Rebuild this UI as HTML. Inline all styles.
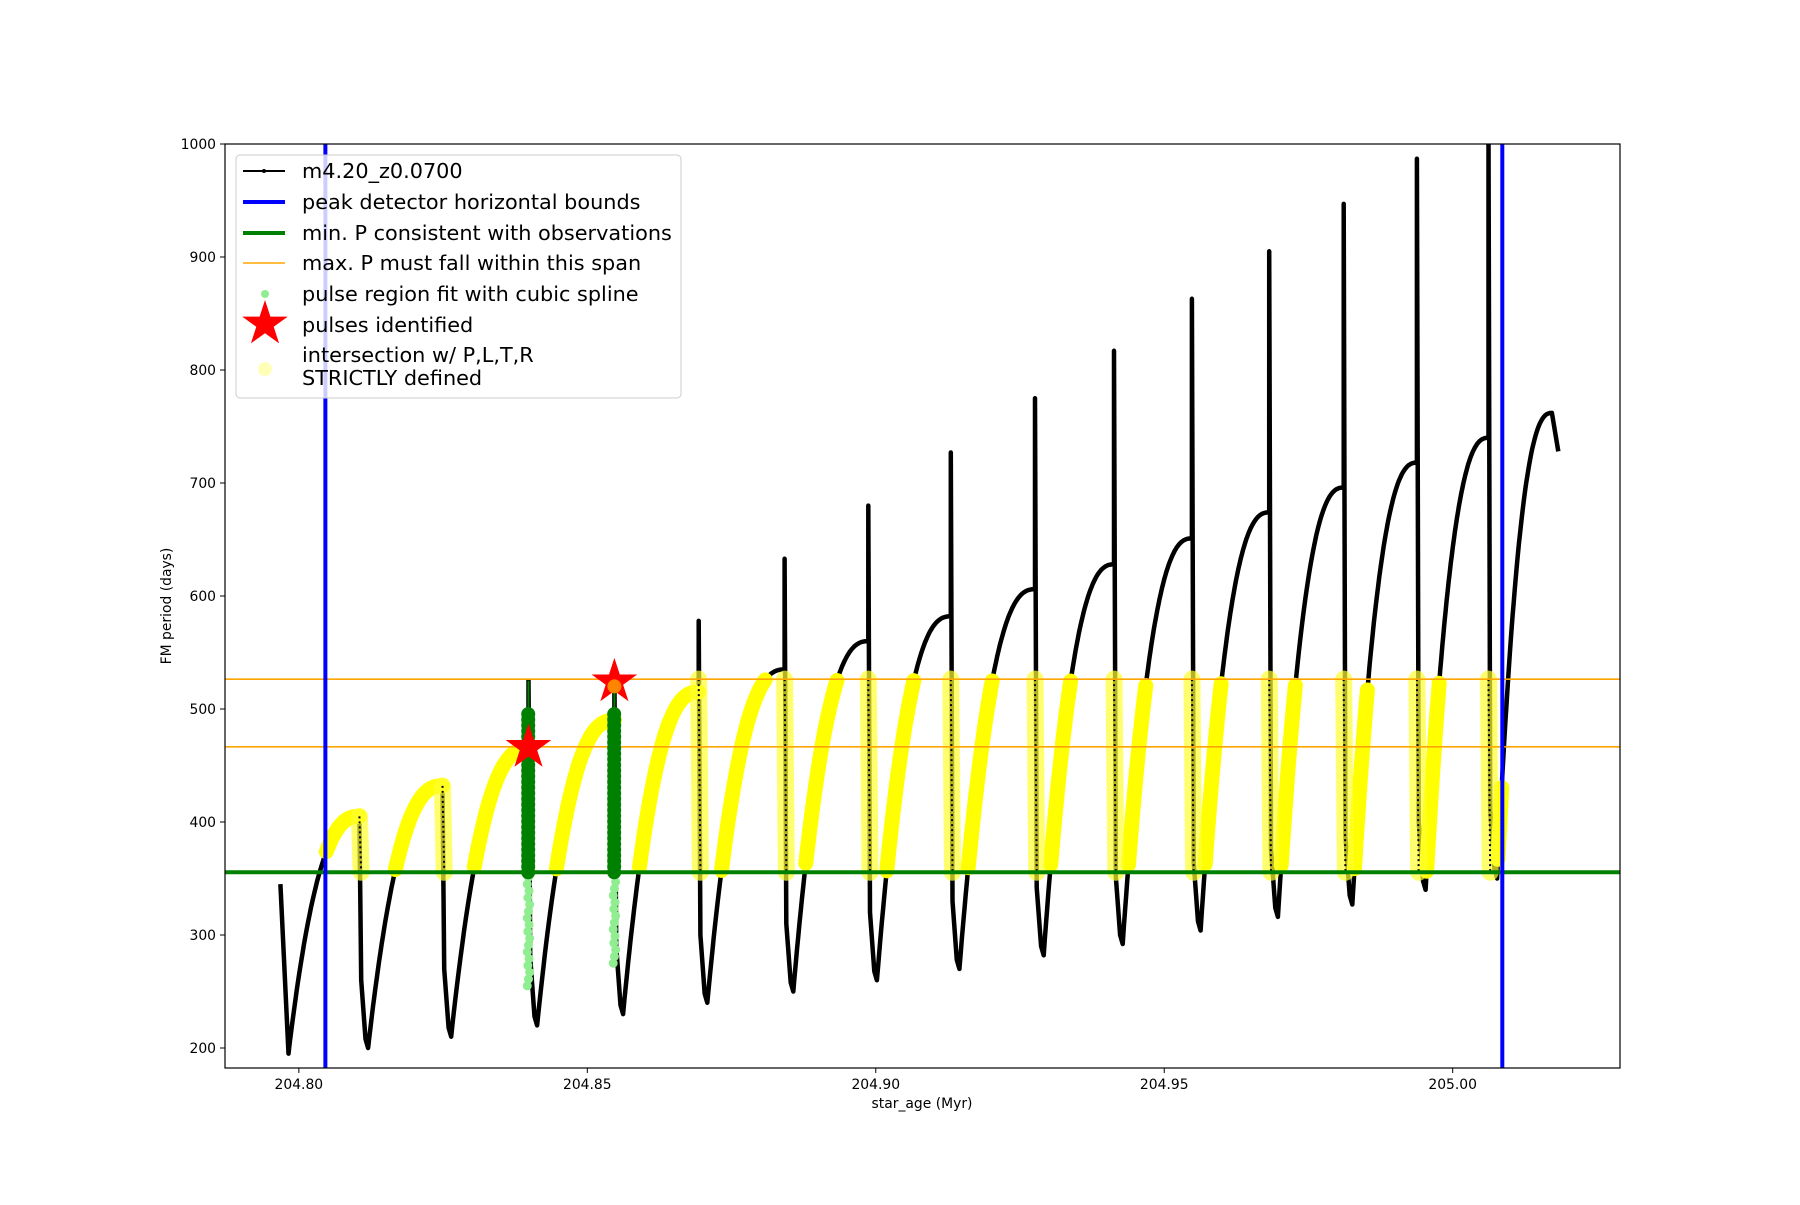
<!DOCTYPE html>
<html><head><meta charset="utf-8"><style>
body{margin:0;background:#fff;}
svg text{font-family:"DejaVu Sans","Liberation Sans",sans-serif;}
</style></head><body>
<svg id="chart" width="1800" height="1200" xmlns="http://www.w3.org/2000/svg">
<defs><clipPath id="clip"><rect x="225" y="144" width="1395" height="924"/></clipPath></defs>
<rect width="1800" height="1200" fill="#fff"/>
<g id="plot" clip-path="url(#clip)"></g>
<rect x="225" y="144" width="1395" height="924" fill="none" stroke="#000" stroke-width="1.2"/>
<g id="axes"></g>
<text x="922" y="1108" font-size="13.9" text-anchor="middle">star_age (Myr)</text>
<text transform="translate(171,606) rotate(-90)" font-size="13.9" text-anchor="middle">FM period (days)</text>
<g>
<rect x="236" y="155" width="445" height="243" rx="4" fill="#fff" fill-opacity="0.8" stroke="#ccc"/>
<g><line x1="243" y1="171" x2="285" y2="171" stroke="#000" stroke-width="2"/><circle cx="264" cy="171" r="2" fill="#000"/><text x="302" y="178" font-size="20.8">m4.20_z0.0700</text></g>
<g><line x1="243" y1="202" x2="285" y2="202" stroke="#0000ff" stroke-width="4"/><text x="302" y="209" font-size="20.8">peak detector horizontal bounds</text></g>
<g><line x1="243" y1="233" x2="285" y2="233" stroke="#008000" stroke-width="4"/><text x="302" y="240" font-size="20.8">min. P consistent with observations</text></g>
<g><line x1="243" y1="263" x2="285" y2="263" stroke="#ffa500" stroke-width="1.5"/><text x="302" y="270" font-size="20.8">max. P must fall within this span</text></g>
<g><circle cx="265" cy="294" r="4" fill="#90ee90"/><text x="302" y="301" font-size="20.8">pulse region fit with cubic spline</text></g>
<g><polygon id="lstar" fill="#ff0000"/><text x="302" y="332" font-size="20.8">pulses identified</text></g>
<g><circle cx="265" cy="369" r="7" fill="#ffffb8"/><text x="302" y="362" font-size="20.8">intersection w/ P,L,T,R</text><text x="302" y="385" font-size="20.8">STRICTLY defined</text></g>
</g>
</svg>
<script>
// ---- data ----
const spikeAge=[204.8105,204.8249,204.8398,204.8547,204.8693,204.8842,204.8987,204.9130,204.9276,204.9413,204.9548,204.9682,204.9811,204.9938,205.0062];
const peakP=[405,432,465,490,515,535,560,582,606,628,651,674,696,718,740];
const spikeP=[405,432,525,530,578,633,680,727,775,817,863,905,947,987,1010];
const minP=[200,210,220,230,240,250,260,270,282,292,304,316,327,340,350];
const startPt=[204.7968,345];
const firstMin=[204.7982,195];
const endPeak=[205.0172,762];
const endPt=[205.0183,728];
const boundAges=[204.8046,205.0086];
const minPeriod=[355.5];
const maxSpan=[466.5,526.4];
const pulseAge=[204.8398,204.8547];
const pulseP=[466,524];
const greenTop=[497,497];
const lightBottom=[255,275];
const xTicks=[204.80,204.85,204.90,204.95,205.00];
const xTickLabels=["204.80","204.85","204.90","204.95","205.00"];
const yTicks=[200,300,400,500,600,700,800,900,1000];
const yTickLabels=["200","300","400","500","600","700","800","900","1000"];
// ---- axes ----
const X0=204.7872,X1=205.0290,Y0=182.3,Y1=1000;
const X=a=>225+(a-X0)/(X1-X0)*1395;
const Y=p=>1068-(p-Y0)/(Y1-Y0)*924;
const NS="http://www.w3.org/2000/svg";
const plot=document.getElementById('plot'),axes=document.getElementById('axes');
function mk(t,at,par){const e=document.createElementNS(NS,t);for(const k in at)e.setAttribute(k,at[k]);par.appendChild(e);return e;}
const LAG=0.0015;
let pts=[[startPt[0],startPt[1]],[firstMin[0],firstMin[1]]];
const rises=[];
let prevT=firstMin[0],prevP=firstMin[1];
function rise(t0,p0,t1,p1){const seg=[];for(let i=1;i<=60;i++){const u=i/60;seg.push([t0+(t1-t0)*u,p0+(p1-p0)*(1-Math.pow(1-u,2.5))]);}return seg;}
const drops=[];
for(let c=0;c<spikeAge.length;c++){
  const r=rise(prevT,prevP,spikeAge[c],peakP[c]);rises.push([[prevT,prevP]].concat(r));pts=pts.concat(r);
  const ts=spikeAge[c];
  const d=[[ts,spikeP[c]],[ts+0.0003,minP[c]+60],[ts+LAG*0.7,minP[c]+8],[ts+LAG,minP[c]]];
  pts.push(...d);drops.push(d);
  prevT=ts+LAG;prevP=minP[c];
}
const lr=rise(prevT,prevP,endPeak[0],endPeak[1]);rises.push([[prevT,prevP]].concat(lr));pts=pts.concat(lr);pts.push(endPt);
const ps=pts.map(p=>X(p[0]).toFixed(1)+','+Y(p[1]).toFixed(1)).join(' ');
const curve=mk('polyline',{points:ps,fill:'none',stroke:'#000','stroke-width':4.5,'stroke-linejoin':'round'},plot);


const lo=minPeriod[0],hi=maxSpan[1];
rises.forEach((seg,i)=>{
  const s=seg.filter(p=>p[1]>=lo&&p[1]<=hi&&p[0]>=boundAges[0]&&p[0]<=boundAges[1]);
  if(s.length<2)return;
  const e=mk('polyline',{points:s.map(p=>X(p[0]).toFixed(1)+','+Y(p[1]).toFixed(1)).join(' '),fill:'none',stroke:'#ffff00','stroke-width':15,'stroke-linecap':'round','stroke-linejoin':'round'},plot);
  
  
});
drops.forEach((d,i)=>{
  if(i===2||i===3)return;
  const t=d[0][0];if(t<boundAges[0]||t>boundAges[1])return;
  const top=Math.min(hi,spikeP[i]);
  const e=mk('line',{x1:X(t),y1:Y(top),x2:X(t+0.0003),y2:Y(lo),stroke:'#ffff30','stroke-width':17,'stroke-opacity':0.7,'stroke-linecap':'round'},plot);
  
  
  const b=mk('line',{x1:X(t),y1:Y(top),x2:X(t+0.0003),y2:Y(lo),stroke:'#000','stroke-width':2,'stroke-dasharray':'2 3'},plot);
  
  
});
const gl=mk('line',{x1:225,x2:1620,y1:Y(minPeriod[0]),y2:Y(minPeriod[0]),stroke:'#008000','stroke-width':4},plot);


maxSpan.forEach(v=>{const e=mk('line',{x1:225,x2:1620,y1:Y(v),y2:Y(v),stroke:'#ffa500','stroke-width':1.6},plot);

});
pulseAge.forEach((t,i)=>{
  const c=i+2;
  const gl2=mk('line',{x1:X(t),x2:X(t),y1:Y(peakP[c]),y2:Y(spikeP[c]),stroke:'#008000','stroke-width':2},plot);
  
  
  for(let p=lightBottom[i];p<=greenTop[i];p+=6){const e=mk('circle',{cx:X(t)+((p*7)%5-2)*0.6,cy:Y(p),r:4.5,fill:'#90ee90'},plot);
  
  }
  for(let p=lo;p<=greenTop[i];p+=5){const e=mk('circle',{cx:X(t)+((p*3)%5-2)*0.5,cy:Y(p),r:7,fill:'#008000'},plot);
  
  }
});
boundAges.forEach(t=>{const e=mk('line',{x1:X(t),x2:X(t),y1:144,y2:1068,stroke:'#0000ff','stroke-width':4},plot);

});
function star(cx,cy,R){const r=R*0.382;let s=[];for(let k=0;k<10;k++){const a=-Math.PI/2+k*Math.PI/5,rr=k%2?r:R;s.push((cx+rr*Math.cos(a)).toFixed(1)+','+(cy+rr*Math.sin(a)).toFixed(1));}return s.join(' ');}
pulseAge.forEach((t,i)=>{const e=mk('polygon',{points:star(X(t),Y(pulseP[i]),24),fill:'#ff0000'},plot);


if(i===1){const o=mk('circle',{cx:X(t),cy:Y(pulseP[i]-4),r:7,fill:'#ffa500','fill-opacity':0.8},plot);

}});
document.getElementById('lstar').setAttribute('points',star(265,324,24));
xTicks.forEach((v,i)=>{mk('line',{x1:X(v),x2:X(v),y1:1068,y2:1073,stroke:'#000','stroke-width':1},axes);
const t=mk('text',{x:X(v),y:1089,'font-size':13.9,'text-anchor':'middle'},axes);t.textContent=xTickLabels[i];

});
yTicks.forEach((v,i)=>{mk('line',{x1:220,x2:225,y1:Y(v),y2:Y(v),stroke:'#000','stroke-width':1},axes);
const t=mk('text',{x:216,y:Y(v)+5,'font-size':13.9,'text-anchor':'end'},axes);t.textContent=yTickLabels[i];

});
</script>
</body></html>
